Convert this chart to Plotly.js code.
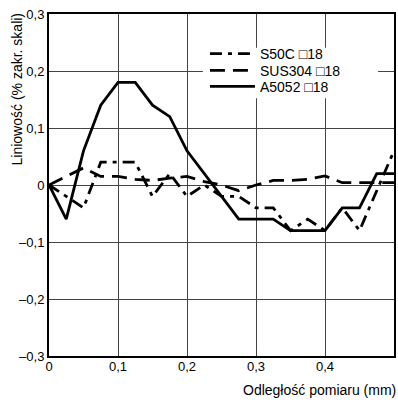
<!DOCTYPE html>
<html>
<head>
<meta charset="utf-8">
<script src="https://cdn.plot.ly/plotly-3.0.1.min.js"></script>
<style>html,body{margin:0;padding:0;background:#fff;}#chart{width:398px;height:400px;}</style>
</head>
<body>
<div id="chart"></div>
<script>
const distance = [0, 0.025, 0.05, 0.075, 0.1, 0.125, 0.15, 0.175, 0.2, 0.225, 0.25, 0.275, 0.3, 0.325, 0.35, 0.375, 0.4, 0.425, 0.45, 0.475, 0.5];
const s50c   = [0, -0.02, -0.04, 0.04, 0.04, 0.04, -0.02, 0.02, -0.02, 0.0, -0.02, -0.02, -0.04, -0.04, -0.08, -0.06, -0.08, -0.04, -0.08, -0.01, 0.06];
const sus304 = [0, 0.015, 0.03, 0.015, 0.015, 0.01, 0.008, 0.012, 0.015, 0.006, 0.0, -0.01, 0.0, 0.008, 0.008, 0.01, 0.016, 0.004, 0.004, 0.004, 0.004];
const a5052  = [0, -0.06, 0.06, 0.14, 0.18, 0.18, 0.14, 0.12, 0.06, 0.02, -0.02, -0.06, -0.06, -0.06, -0.08, -0.08, -0.08, -0.04, -0.04, 0.02, 0.02];
const seriesNames = ["S50C \u25A118", "SUS304 \u25A118", "A5052 \u25A118"];
const xTickVals = [0, 0.1, 0.2, 0.3, 0.4, 0.5];
const xTickText = ["0", "0,1", "0,2", "0,3", "0,4", "0,5\u00A0\u00A0\u00A0\u00A0"];
const yTickVals = [-0.3, -0.2, -0.1, 0, 0.1, 0.2, 0.3];
const yTickText = ["\u20130,3", "\u20130,2", "\u20130,1", "0", "0,1", "0,2", "0,3"];
const xTitle = "Odległość pomiaru (mm)";
const yTitle = "Liniowość (% zakr. skali)";

const tickFont = {family: "Liberation Sans, Arial, sans-serif", size: 13, color: "#000"};
const font = {family: "Liberation Sans, Arial, sans-serif", size: 14, color: "#000"};
const traces = [
  {x: distance, y: s50c, name: seriesNames[0], legend: "legend", mode: "lines", line: {color: "#000", width: 2.8, dash: "12px,6px,4px,6px"}},
  {x: distance, y: sus304, name: seriesNames[1], legend: "legend2", mode: "lines", line: {color: "#000", width: 2.8, dash: "15px,8px"}},
  {x: distance, y: a5052, name: seriesNames[2], legend: "legend3", mode: "lines", line: {color: "#000", width: 2.8}}
];
function leg(yp) {
  return {x: 0.452, y: yp, xanchor: "left", yanchor: "middle", bgcolor: "rgba(0,0,0,0)", borderwidth: 0,
          font: font, itemwidth: 45};
}
const layout = {
  width: 398, height: 400,
  margin: {l: 49, r: 4, t: 14, b: 44},
  paper_bgcolor: "#fff", plot_bgcolor: "#fff",
  font: font,
  showlegend: true,
  legend: leg(0.883),
  legend2: leg(0.834),
  legend3: leg(0.787),
  shapes: [
    {type: "rect", xref: "paper", yref: "paper", x0: 0.446, x1: 0.954, y0: 0.754, y1: 0.901,
     fillcolor: "#fff", line: {width: 0}, layer: "above"}
  ],
  xaxis: {range: [0, 0.5], tickvals: xTickVals, ticktext: xTickText, showgrid: true, gridcolor: "#444", gridwidth: 1,
          zeroline: false, showline: true, linecolor: "#000", linewidth: 2, mirror: true, ticks: "", tickfont: tickFont,
          ticklabelstandoff: -3, fixedrange: true},
  yaxis: {range: [-0.3, 0.3], tickvals: yTickVals, ticktext: yTickText, showgrid: true, gridcolor: "#444", gridwidth: 1,
          zeroline: false, showline: true, linecolor: "#000", linewidth: 2, mirror: true, ticks: "", tickfont: tickFont, fixedrange: true},
  annotations: [
    {text: xTitle, xref: "paper", yref: "paper", x: 1.012, y: -0.1, xanchor: "right", yanchor: "middle", showarrow: false, font: font},
    {text: yTitle, xref: "paper", yref: "paper", x: -0.093, y: 0.782, xanchor: "center", yanchor: "middle", textangle: -90, showarrow: false, font: font}
  ]
};
Plotly.newPlot("chart", traces, layout, {displayModeBar: false, staticPlot: true});
</script>
</body>
</html>
